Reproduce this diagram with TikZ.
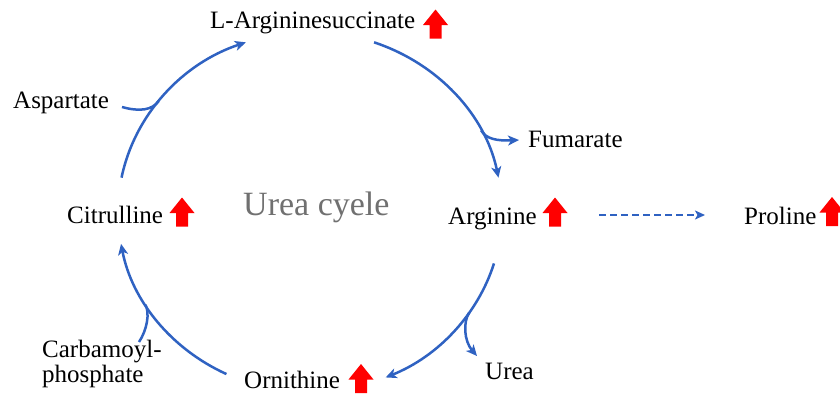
\documentclass[tikz,border=0pt]{standalone}
\usepackage{fontspec}
\setmainfont{Liberation Serif}
\usetikzlibrary{arrows.meta,calc}
\definecolor{flowblue}{RGB}{47,98,194}
\definecolor{titlegray}{RGB}{112,112,112}
\tikzset{
  lbl/.style={inner sep=0pt, anchor=base west, font=\fontsize{25}{25}\selectfont},
  flow/.style={draw=flowblue, line width=2.5pt, -{Stealth[length=11pt,width=10pt,inset=3pt]}},
  branch/.style={draw=flowblue, line width=2.5pt},
  dashflow/.style={draw=flowblue, line width=2.6pt, dash pattern=on 7pt off 4pt, -{Stealth[length=10pt,width=9pt,inset=2.5pt]}},
  upmark/.pic={\fill[red] (0,-14.5) -- (12.5,1) -- (6,1) -- (6,14.5) -- (-6,14.5) -- (-6,1) -- (-12.5,1) -- cycle;}
}
\begin{document}
\begin{tikzpicture}[x=1pt,y=-1pt]
\fill[white] (0,0) rectangle (840,413);
\useasboundingbox (0,0) rectangle (840,413);
\coordinate (ctr) at (310,212);

% labels
\node[lbl] (las) at (210,28) {L-Argininesuccinate};
\node[lbl] (asp) at (13,108) {Aspartate};
\node[lbl] (fum) at (528,147) {Fumarate};
\node[lbl] (cit) at (67,223) {Citrulline};
\node[lbl] (arg) at (448,224) {Arginine};
\node[lbl] (pro) at (744,224) {Proline};
\node[lbl, align=left, anchor=base west] (carb) at (42,382) {Carbamoyl-\\phosphate};
\node[lbl] (orn) at (244,388) {Ornithine};
\node[lbl] (urea) at (485,379) {Urea};
\node[inner sep=0pt, anchor=base west, font=\fontsize{34}{34}\selectfont, text=titlegray] (title) at (243,215) {Urea cyele};

% red up arrows
\pic at (435.5,24) {upmark};
\pic at (182,212) {upmark};
\pic at (555,212) {upmark};
\pic at (361,378.5) {upmark};
\pic at (832,211.5) {upmark};

% cycle arcs
\coordinate (a1s) at ($(ctr)+(191:192 and 180)$);
\coordinate (a2s) at ($(ctr)+(289.5:192 and 180)$);
\coordinate (a3s) at ($(ctr)+(16.6:192 and 180)$);
\coordinate (a4s) at ($(ctr)+(115.8:192 and 180)$);
\draw[flow] (a1s) arc[start angle=191, end angle=250.5, x radius=192, y radius=180] coordinate (a1e);
\draw[flow] (a2s) arc[start angle=289.5, end angle=349, x radius=192, y radius=180] coordinate (a2e);
\draw[flow] (a3s) arc[start angle=16.6, end angle=66.8, x radius=192, y radius=180] coordinate (a3e);
\draw[flow] (a4s) arc[start angle=115.8, end angle=169.8, x radius=192, y radius=180] coordinate (a4e);

% side branches
\coordinate (aspS) at (122,107);
\coordinate (aspJ) at ($(ctr)+(218:192 and 180)$);
\draw[branch] (aspS) .. controls (140,112) and (152,110) .. (aspJ);

\coordinate (fumJ) at ($(ctr)+(333:192 and 180)$);
\coordinate (fumT) at (519,140);
\draw[flow] (fumJ) .. controls (486,139) and (497,141) .. (fumT);

\coordinate (ureaJ) at ($(ctr)+(34:192 and 180)$);
\coordinate (ureaT) at (477,356);
\draw[flow] (ureaJ) .. controls (463,322) and (464,341) .. (ureaT);

\coordinate (carbS) at (139,342);
\coordinate (carbJ) at ($(ctr)+(149:192 and 180)$);
\draw[branch] (carbS) .. controls (147,330) and (150,313) .. (carbJ);

% dashed conversion
\coordinate (dS) at (599,215);
\coordinate (dE) at (705,215);
\draw[dashflow] (dS) -- (dE);
\end{tikzpicture}
\end{document}
